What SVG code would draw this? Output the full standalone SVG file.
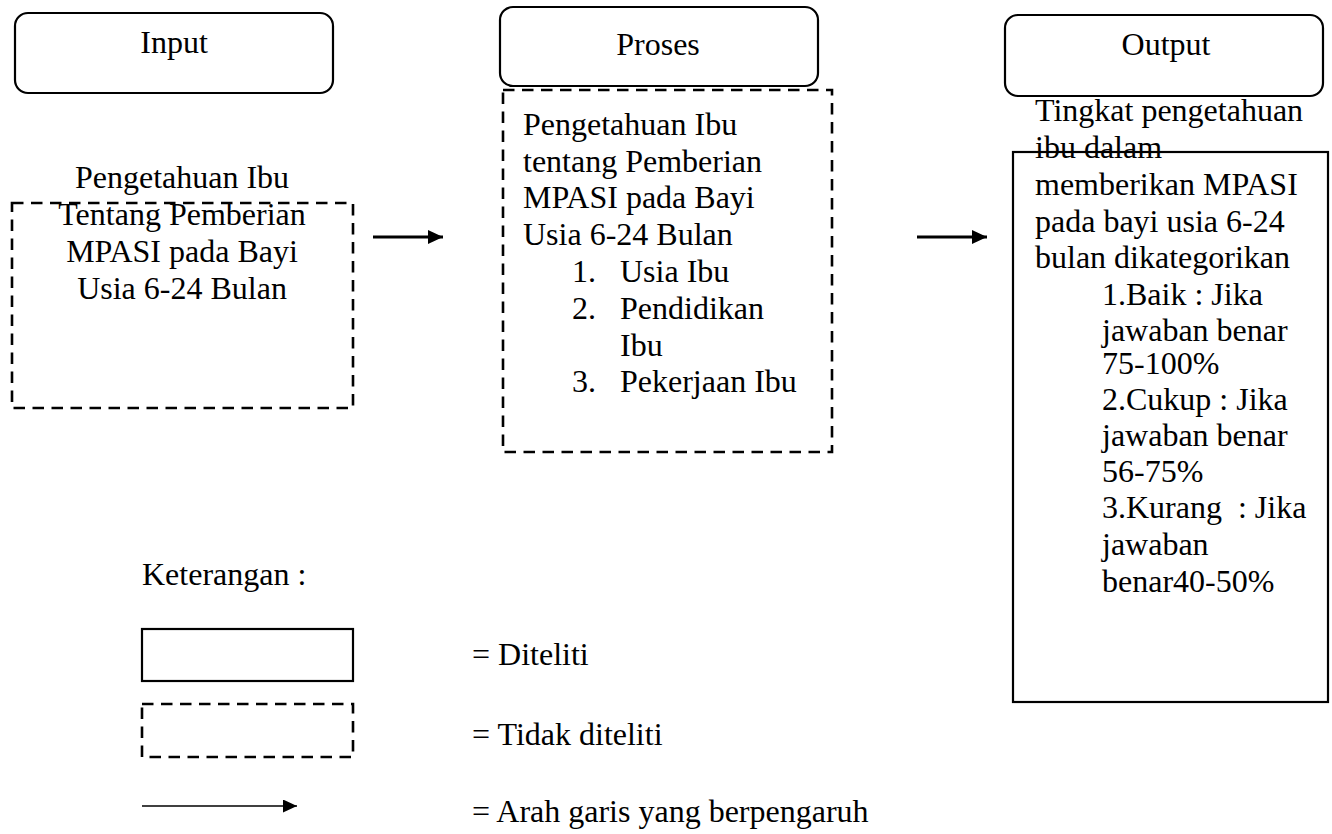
<svg xmlns="http://www.w3.org/2000/svg" width="1332" height="834" viewBox="0 0 1332 834">
<defs>
<style>
text{font-family:"Liberation Serif","Times New Roman",serif;font-size:32px;fill:#000}
.c{text-anchor:middle}
.box{fill:none;stroke:#000;stroke-width:2.2}
.dash{fill:none;stroke:#000;stroke-width:2.6;stroke-dasharray:11.5 7.5}
.arr{stroke:#000;stroke-width:3;fill:none}
.arrthin{stroke:#000;stroke-width:1.3;fill:none}
.pre{white-space:pre}
</style>
<marker id="ah" markerUnits="userSpaceOnUse" markerWidth="16" markerHeight="14" refX="15" refY="7" orient="auto">
<path d="M0,0 L15,7 L0,14 Z" fill="#000"/>
</marker>
<marker id="ahs" markerUnits="userSpaceOnUse" markerWidth="15" markerHeight="13" refX="14" refY="6.5" orient="auto">
<path d="M0,0 L14,6.5 L0,13 Z" fill="#000"/>
</marker>
</defs>
<rect width="1332" height="834" fill="#fff"/>

<g id="input-header">
<rect class="box" x="15" y="13" width="318" height="80" rx="13"/>
<text class="c" x="174" y="53">Input</text>
</g>
<g id="input-box">
<rect class="dash" x="12" y="203" width="341" height="205"/>
<text class="c" x="182" y="188">Pengetahuan Ibu</text>
<text class="c" x="182" y="225">Tentang Pemberian</text>
<text class="c" x="182" y="262">MPASI pada Bayi</text>
<text class="c" x="182" y="299">Usia 6-24 Bulan</text>
</g>

<g id="proses-header">
<rect class="box" x="500" y="7" width="318" height="79" rx="13"/>
<text class="c" x="658" y="55">Proses</text>
</g>
<g id="proses-box">
<rect class="dash" x="503" y="90" width="329" height="362"/>
<text x="523" y="135">Pengetahuan Ibu</text>
<text x="523" y="172">tentang Pemberian</text>
<text x="523" y="208">MPASI pada Bayi</text>
<text x="523" y="245">Usia 6-24 Bulan</text>
<text x="572" y="282">1.</text><text x="620" y="282">Usia Ibu</text>
<text x="572" y="319">2.</text><text x="620" y="319">Pendidikan</text>
<text x="620" y="356">Ibu</text>
<text x="572" y="392">3.</text><text x="620" y="392">Pekerjaan Ibu</text>
</g>

<g id="output-header">
<rect class="box" x="1005" y="15" width="318" height="81" rx="13"/>
<text class="c" x="1166" y="55">Output</text>
</g>
<g id="output-box">
<rect class="box" x="1013" y="152" width="315" height="550" stroke-width="2.6"/>
<text x="1035" y="121">Tingkat pengetahuan</text>
<text x="1035" y="158">ibu dalam</text>
<text x="1035" y="195">memberikan MPASI</text>
<text x="1035" y="232">pada bayi usia 6-24</text>
<text x="1035" y="268">bulan dikategorikan</text>
<text x="1102" y="305">1.Baik : Jika</text>
<text x="1102" y="341">jawaban benar</text>
<text x="1102" y="374">75-100%</text>
<text x="1102" y="410">2.Cukup : Jika</text>
<text x="1102" y="446">jawaban benar</text>
<text x="1102" y="482">56-75%</text>
<text class="pre" x="1102" y="518">3.Kurang  : Jika</text>
<text x="1102" y="555">jawaban</text>
<text x="1102" y="592">benar40-50%</text>
</g>

<g id="connectors">
<line class="arr" x1="373" y1="237" x2="443" y2="237" marker-end="url(#ah)"/>
<line class="arr" x1="917" y1="237" x2="987" y2="237" marker-end="url(#ah)"/>
</g>

<g id="legend">
<text x="142" y="585">Keterangan :</text>
<rect class="box" x="142" y="629" width="211" height="52"/>
<text x="472" y="665">= Diteliti</text>
<rect class="dash" x="142" y="704" width="211" height="53"/>
<text x="472" y="745">= Tidak diteliti</text>
<line class="arrthin" x1="142" y1="806" x2="297" y2="806" marker-end="url(#ahs)"/>
<text x="472" y="822">= Arah garis yang berpengaruh</text>
</g>
</svg>
